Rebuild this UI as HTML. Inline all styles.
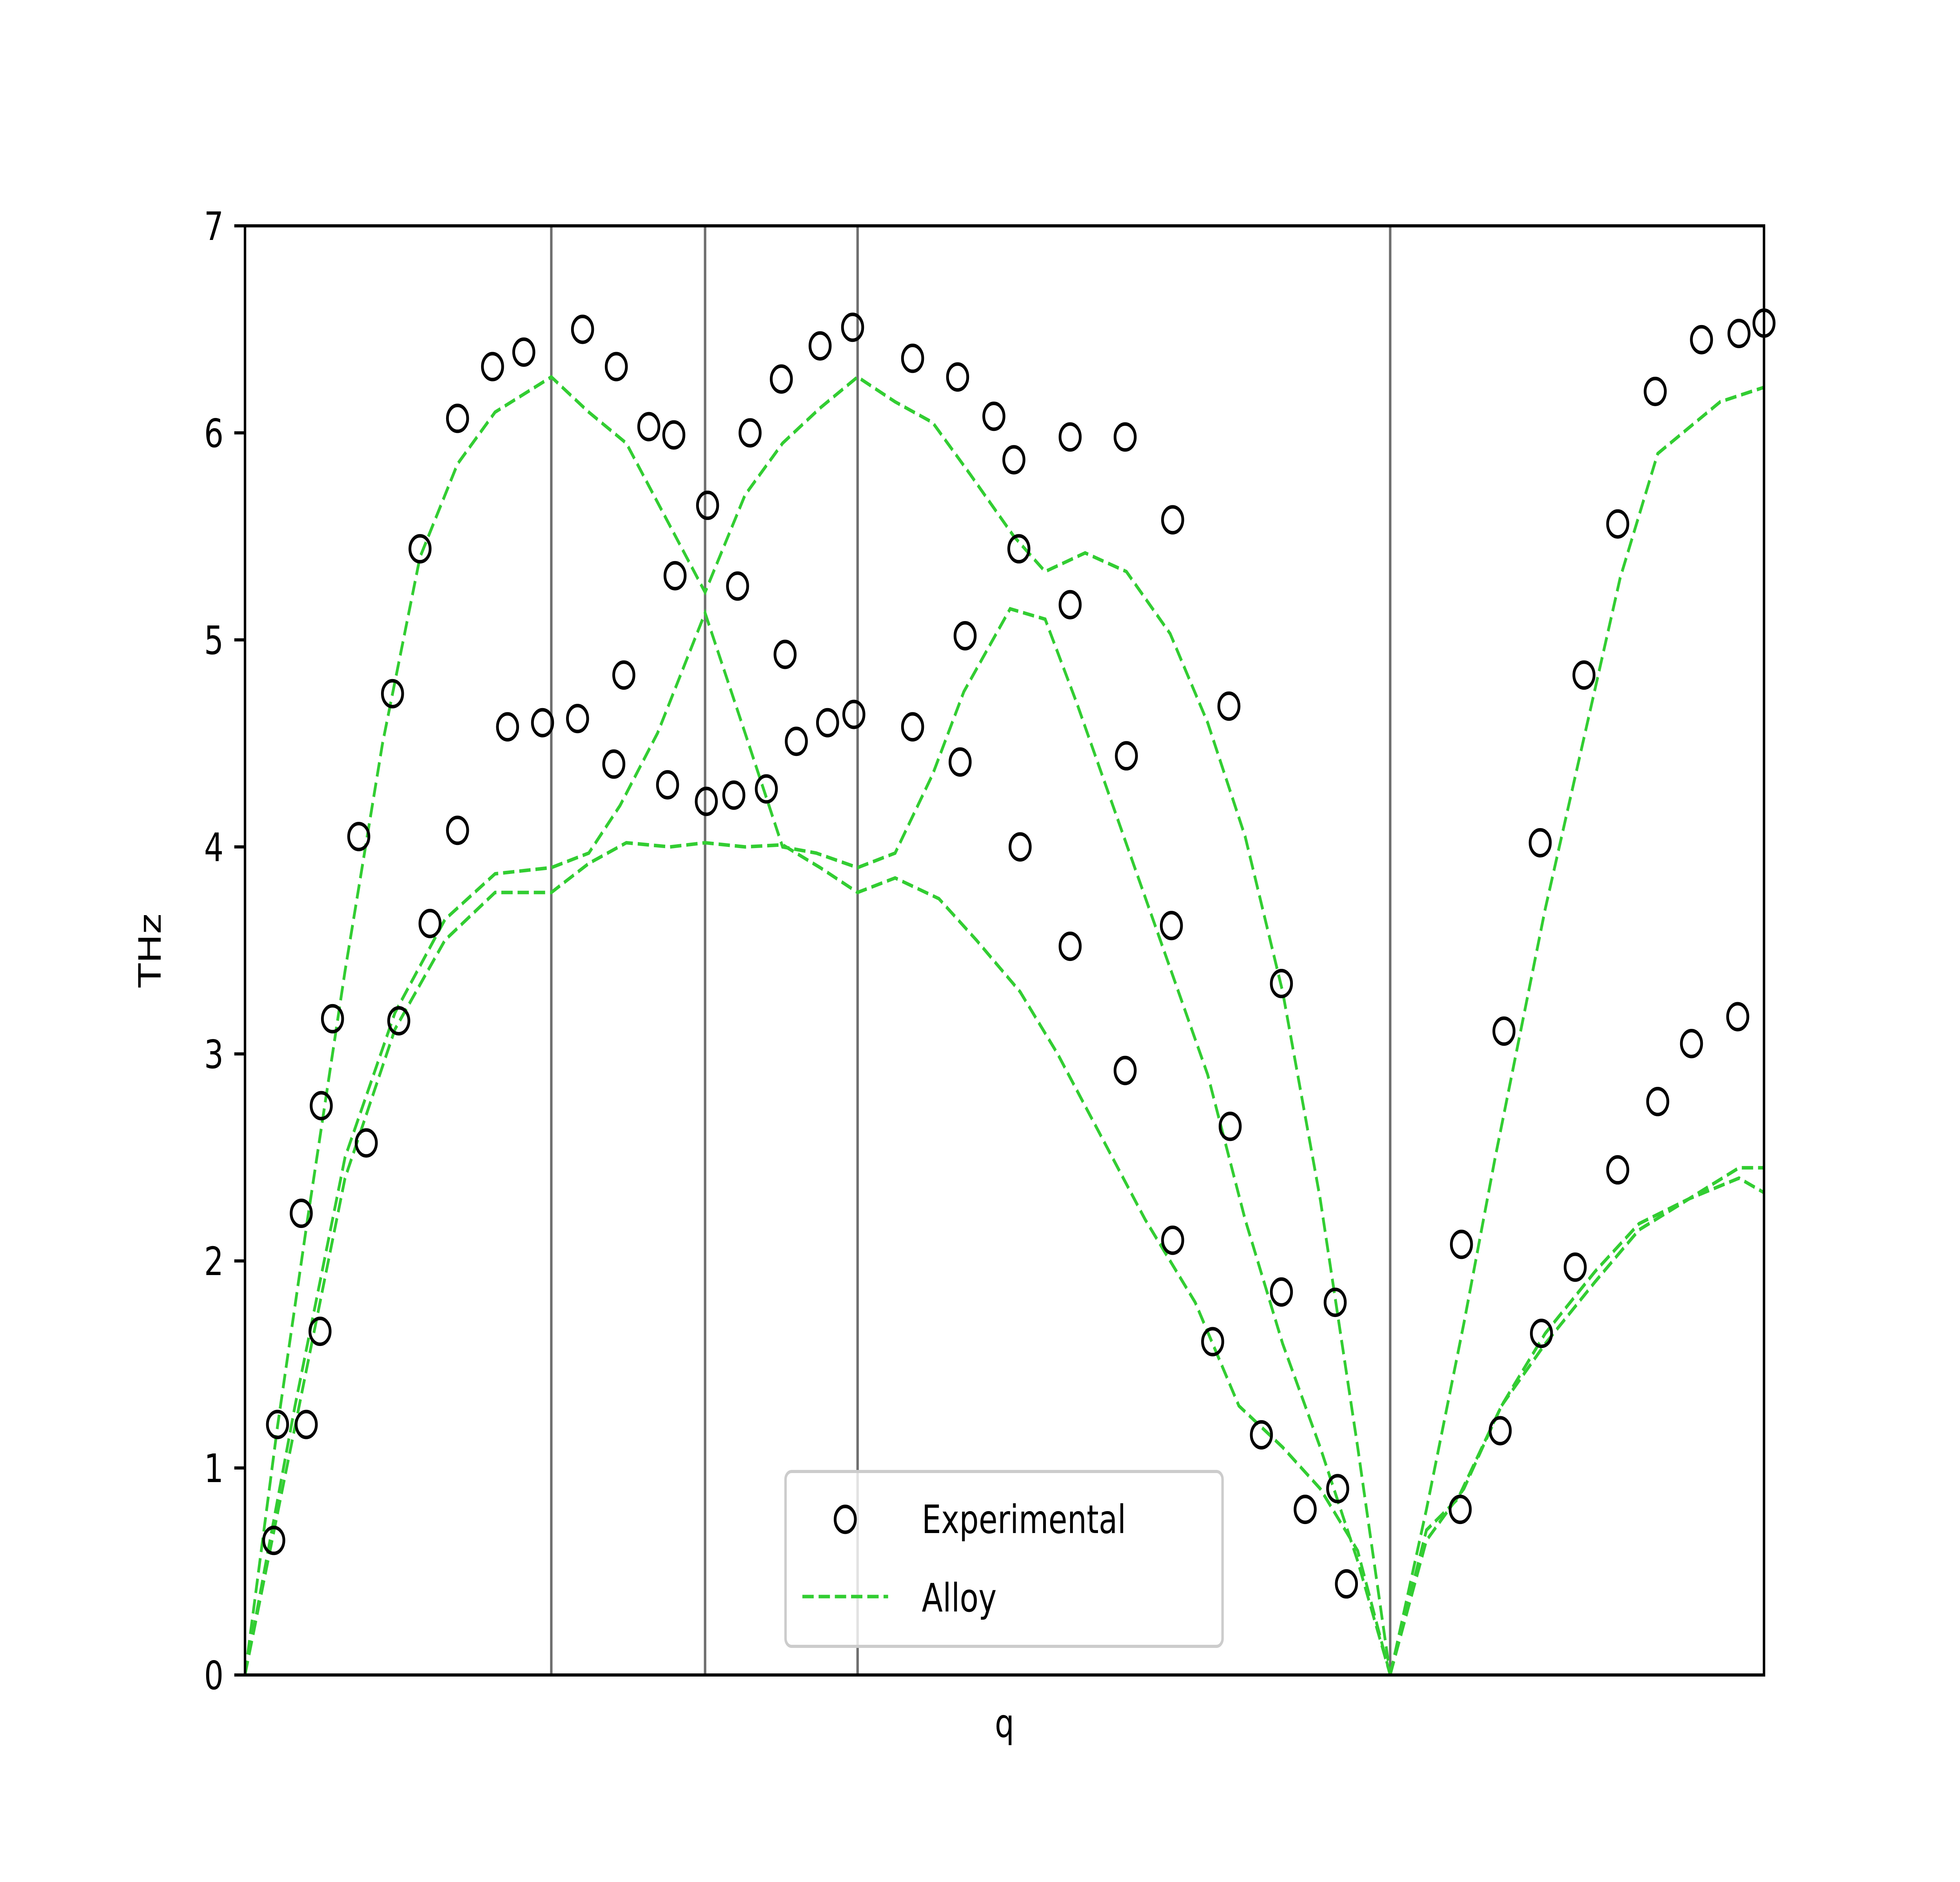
<!DOCTYPE html>
<html><head><meta charset="utf-8"><style>
html,body{margin:0;padding:0;background:#fff;width:100%;height:100%;overflow:hidden;}
svg{display:block;position:fixed;left:0;top:0;width:100vw;height:100vh;}
text{font-family:"DejaVu Sans","Liberation Sans",sans-serif;fill:#000;}
</style></head>
<body>
<svg id="chart" viewBox="0 0 640 480" preserveAspectRatio="none" xmlns="http://www.w3.org/2000/svg">
<rect x="0" y="0" width="640" height="480" fill="#fff"/>
<g id="plot"></g>
</svg>
<script>
const expX = [23,26,49,45,60,61,70,91,97,118,123,140,148,170,170,198,210,223,238,266,270,295,297,303,323,338,343,344,369,370,391,394,404,417,429,432,441,460,466,486,487,534,534,570,572,576,599,615,619,620,660,660,660,704,705,704,742,741,742,774,787,788,813,829,829,848,872,874,881,972,973,1004,1007,1036,1037,1064,1071,1098,1098,1128,1130,1157,1165,1194,1195,1215];
const expY = [0.65,1.21,1.21,2.23,1.66,2.75,3.17,4.05,2.57,4.74,3.16,5.44,3.63,4.08,6.07,6.32,4.58,6.39,4.60,4.62,6.50,4.40,6.32,4.83,6.03,4.30,5.99,5.31,4.22,5.65,4.25,5.26,6.00,4.28,6.26,4.93,4.51,6.42,4.60,6.51,4.64,6.36,4.58,6.27,4.41,5.02,6.08,5.87,5.44,4.00,5.98,5.17,3.52,5.98,4.44,2.92,5.58,3.62,2.10,1.61,4.68,2.65,1.16,3.34,1.85,0.80,1.80,0.90,0.44,0.80,2.08,1.18,3.11,4.02,1.65,1.97,4.83,2.44,5.56,6.20,2.77,3.05,6.45,3.18,6.48,6.53];

const lineAX = [0,26,50,80,110,140,170,200,245,275,305,340,368,400,430,460,490,520,550,580,615,640,672,705,740,770,800,830,860,890,916];
const lineAY = [0,1.2,2.2,3.4,4.5,5.4,5.85,6.1,6.27,6.1,5.95,5.55,5.23,5.7,5.95,6.12,6.27,6.15,6.05,5.8,5.5,5.33,5.42,5.33,5.03,4.6,4.05,3.3,2.3,1.1,0];
const lineBX = [0,40,80,120,160,200,245,275,300,330,368,400,430,457,490,520,550,575,612,640,665,700,735,770,800,830,860,890,916];
const lineBY = [0,1.3,2.5,3.2,3.65,3.87,3.9,3.97,4.2,4.55,5.13,4.55,4.0,3.97,3.9,3.97,4.35,4.75,5.15,5.1,4.7,4.1,3.5,2.9,2.2,1.6,1.1,0.55,0];
const lineCX = [0,40,80,120,160,200,245,275,305,340,368,400,430,460,490,520,555,585,620,650,685,720,760,795,830,860,890,916];
const lineCY = [0,1.2,2.4,3.12,3.55,3.78,3.78,3.92,4.02,4.0,4.02,4.0,4.01,3.9,3.78,3.85,3.75,3.55,3.3,3.0,2.6,2.2,1.8,1.3,1.1,0.9,0.6,0];
const lineDX = [916,945,975,1000,1040,1070,1100,1130,1180,1215];
const lineDY = [0,0.8,1.7,2.5,3.7,4.5,5.3,5.9,6.15,6.22];
const lineEX = [916,945,970,1005,1040,1080,1115,1155,1195,1215];
const lineEY = [0,0.7,0.85,1.3,1.6,1.9,2.15,2.3,2.45,2.45];
const lineFX = [916,945,975,1005,1040,1080,1115,1155,1195,1215];
const lineFY = [0,0.65,0.9,1.3,1.65,1.95,2.18,2.3,2.4,2.33];

const vLines = [245,368,490,916];
const yTicks = [0,1,2,3,4,5,6,7];

const X0=80,X1=576,Y0=427.2,Y1=57.6;
function sx(v){return X0+(v/1215)*(X1-X0);}
function sy(v){return Y0-(v/7)*(Y0-Y1);}
const NS="http://www.w3.org/2000/svg";
const g=document.getElementById('plot');
function mk(tag,attrs,parent){const e=document.createElementNS(NS,tag);for(const k in attrs)e.setAttribute(k,attrs[k]);(parent||g).appendChild(e);return e;}

vLines.forEach(v=>{
  const l=mk('line',{x1:sx(v),x2:sx(v),y1:Y1,y2:Y0,stroke:'#6e6e6e','stroke-width':0.8});
  
  
});

const lines=[[lineAX,lineAY],[lineBX,lineBY],[lineCX,lineCY],[lineDX,lineDY],[lineEX,lineEY],[lineFX,lineFY]];
lines.forEach(([xs,ys])=>{
  const d=xs.map((x,i)=>(i?'L':'M')+sx(x).toFixed(2)+','+sy(ys[i]).toFixed(2)).join(' ');
  const p=mk('path',{d:d,fill:'none',stroke:'#32cd32','stroke-width':0.9,'stroke-dasharray':'3.7,1.6'});
  
  
});

expX.forEach((x,i)=>{
  const c=mk('circle',{cx:sx(x),cy:sy(expY[i]),r:3.3,fill:'none',stroke:'#000','stroke-width':0.9});
  
  
});

const fr=mk('rect',{x:X0,y:Y1,width:X1-X0,height:Y0-Y1,fill:'none',stroke:'#000','stroke-width':0.8});



yTicks.forEach(t=>{
  const tl=mk('line',{x1:X0-3.5,x2:X0,y1:sy(t),y2:sy(t),stroke:'#000','stroke-width':0.8});
  
  
  const tx=mk('text',{x:X0-7,y:sy(t)+3.6,'text-anchor':'end','font-size':10});
  tx.textContent=t;
  
  
});

const yt=mk('text',{x:0,y:0,'text-anchor':'middle','font-size':10,transform:'translate(52.5,242.4) rotate(-90)'});
yt.textContent='THz';


const xt=mk('text',{x:328,y:443,'text-anchor':'middle','font-size':10});
xt.textContent='q';



const lg=mk('g',{});


mk('rect',{x:256.5,y:375.3,width:142.7,height:44.6,rx:2,fill:'#fff','fill-opacity':0.8,stroke:'#ccc','stroke-width':0.8},lg);
const lm=mk('circle',{cx:276,cy:387.5,r:3.3,fill:'none',stroke:'#000','stroke-width':0.9},lg);


const l1=mk('text',{x:301,y:391,'font-size':10},lg);
l1.textContent='Experimental';


const ll=mk('line',{x1:262,x2:290,y1:407.2,y2:407.2,stroke:'#32cd32','stroke-width':0.9,'stroke-dasharray':'3.7,1.6'},lg);


const l2=mk('text',{x:301,y:411,'font-size':10},lg);
l2.textContent='Alloy';


</script>
</body></html>
